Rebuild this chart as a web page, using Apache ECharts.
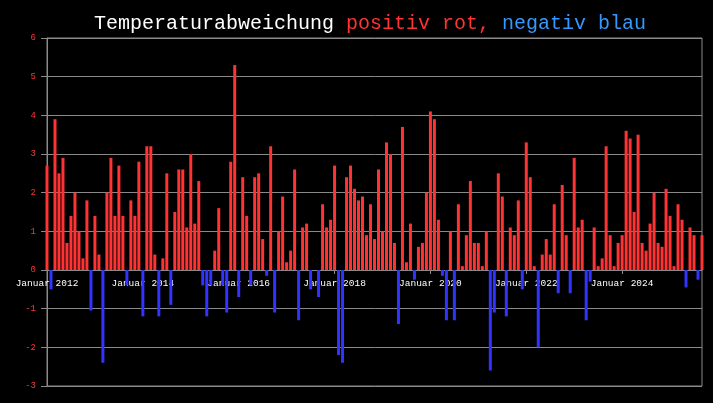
<!DOCTYPE html>
<html>
<head>
<meta charset="utf-8">
<script src="https://cdn.jsdelivr.net/npm/echarts@6/dist/echarts.min.js"></script>
<style>
html,body{margin:0;padding:0;background:#000;}
#c{width:713px;height:403px;}
</style>
</head>
<body>
<div id="c"></div>
<script>
// Monthly temperature deviation, Jan 2012 .. Sep 2025
var startYear = 2012;
var monthCount = 165;
var values = [
 2.7,-0.5,3.9,2.5,2.9,0.7,1.4,2.0,1.0,0.3,1.8,-1.05,
 1.4,0.4,-2.4,2.0,2.9,1.4,2.7,1.4,-0.4,1.8,1.4,2.8,
 -1.2,3.2,3.2,0.4,-1.2,0.3,2.5,-0.9,1.5,2.6,2.6,1.1,
 3.0,1.2,2.3,-0.4,-1.2,-0.4,0.5,1.6,-0.4,-1.1,2.8,5.3,
 -0.7,2.4,1.4,-0.4,2.4,2.5,0.8,-0.15,3.2,-1.1,1.0,1.9,
 0.2,0.5,2.6,-1.3,1.1,1.2,-0.5,0,-0.7,1.7,1.1,1.3,
 2.7,-2.2,-2.4,2.4,2.7,2.1,1.8,1.9,0.9,1.7,0.8,2.6,
 1.0,3.3,3.0,0.7,-1.4,3.7,0.2,1.2,-0.25,0.6,0.7,2.0,
 4.1,3.9,1.3,-0.15,-1.3,1.0,-1.3,1.7,0.1,0.9,2.3,0.7,
 0.7,0.1,1.0,-2.6,-1.1,2.5,1.9,-1.2,1.1,0.9,1.8,-0.5,
 3.3,2.4,0.1,-2.0,0.4,0.8,0.4,1.7,-0.6,2.2,0.9,-0.6,
 2.9,1.1,1.3,-1.3,-0.3,1.1,0.1,0.3,3.2,0.9,0.1,0.7,
 0.9,3.6,3.4,1.5,3.5,0.7,0.5,1.2,2.0,0.7,0.6,2.1,
 1.4,0.1,1.7,1.3,-0.45,1.1,0.9,-0.25,0.9
];
var monthNames = ["Januar","Februar","März","April","Mai","Juni","Juli","August","September","Oktober","November","Dezember"];
var yTicks = [-3,-2,-1,0,1,2,3,4,5,6];

var categories = [];
for (var i = 0; i < monthCount; i++) {
  var y = startYear + Math.floor(i / 12);
  categories.push(monthNames[i % 12] + " " + y);
}

var gridTop = 38, gridBottom = 17, chartH = 403;
var plotH = chartH - gridTop - gridBottom;
var yMin = yTicks[0], yMax = yTicks[yTicks.length - 1];
// distance from the bottom of the plot to the zero line, so the x axis sits on zero
var zeroOffset = -plotH * (0 - yMin) / (yMax - yMin);

var chart = echarts.init(document.getElementById('c'), null, {renderer: 'canvas'});
var mono = "'Liberation Mono', 'DejaVu Sans Mono', monospace";
var tfs = 20;
chart.setOption({
  backgroundColor: '#000000',
  animation: false,
  title: {
    left: 89,
    top: 9,
    text: '{w|Temperaturabweichung }{r|positiv rot, }{b|negativ blau}',
    textStyle: {
      fontFamily: mono,
      fontSize: tfs,
      fontWeight: 'normal',
      rich: {
        w: {color: '#ffffff', fontFamily: mono, fontSize: tfs, fontWeight: 'normal'},
        r: {color: '#ff3333', fontFamily: mono, fontSize: tfs, fontWeight: 'normal'},
        b: {color: '#3399ff', fontFamily: mono, fontSize: tfs, fontWeight: 'normal'}
      }
    }
  },
  grid: {
    left: 47, right: 11, top: gridTop, bottom: gridBottom,
    show: true, borderColor: '#8a8a8a', borderWidth: 1, backgroundColor: 'transparent'
  },
  xAxis: {
    type: 'category',
    data: categories,
    boundaryGap: false,
    offset: zeroOffset,
    axisLine: {show: true, onZero: false, lineStyle: {color: '#8a8a8a'}},
    axisTick: {show: true, length: 4, lineStyle: {color: '#8a8a8a'},
      interval: function (idx) { return idx % 24 === 0; }},
    axisLabel: {
      color: '#ffffff', fontFamily: mono, fontSize: 9.5, margin: 8,
      interval: function (idx) { return idx % 24 === 0; },
      showMinLabel: true
    },
    splitLine: {show: false}
  },
  yAxis: {
    type: 'value',
    min: yMin, max: yMax, interval: 1,
    axisLine: {show: true, lineStyle: {color: '#8a8a8a'}},
    axisTick: {show: true, length: 6, lineStyle: {color: '#8a8a8a'}},
    axisLabel: {color: '#ff3333', fontFamily: mono, fontSize: 9, margin: 11},
    splitLine: {show: true, lineStyle: {color: '#8a8a8a', width: 1}}
  },
  series: [{
    type: 'bar',
    data: values,
    barWidth: 3,
    itemStyle: {
      color: function (p) { return p.value >= 0 ? '#ff3333' : '#3333ff'; }
    }
  }]
});
</script>
</body>
</html>
